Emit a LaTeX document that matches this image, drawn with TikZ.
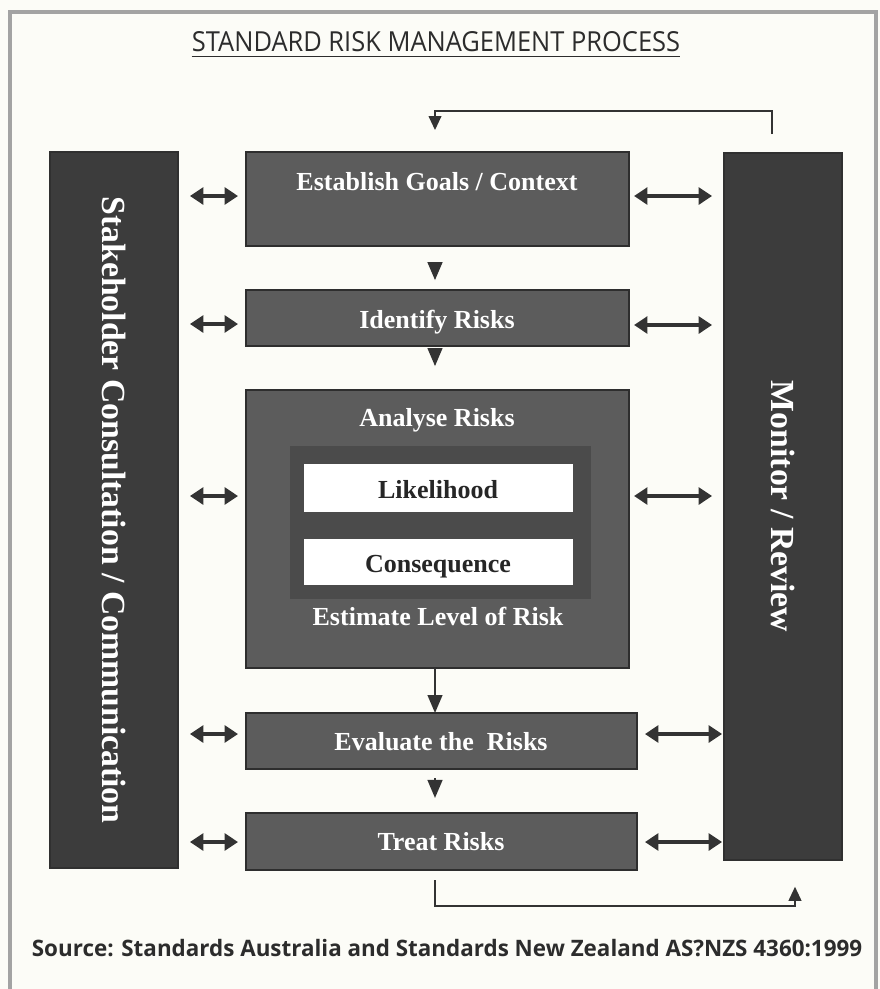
\documentclass[tikz,border=0pt]{standalone}
\usepackage{fontspec}
\setmainfont{Liberation Serif}
\newfontfamily\titlefont{Open Sans}
\usetikzlibrary{arrows.meta,fit}
\definecolor{bg}{HTML}{FCFCF7}
\definecolor{framec}{HTML}{A3A3A3}
\definecolor{boxfill}{HTML}{5C5C5C}
\definecolor{boxline}{HTML}{2E2E2E}
\definecolor{barfill}{HTML}{3C3C3C}
\definecolor{innerfill}{HTML}{4B4B4B}
\definecolor{arrowc}{HTML}{333333}
\definecolor{titlec}{HTML}{2C2C2C}
\begin{document}
\begin{tikzpicture}[x=0.025cm,y=-0.025cm,
  box/.style={draw=boxline, line width=2pt, fill=boxfill, inner sep=0pt},
  bar/.style={draw=barfill!80!black, line width=1pt, fill=barfill, inner sep=0pt},
  innerbox/.style={fill=innerfill, inner sep=0pt},
  whitebox/.style={fill=white, draw=innerfill, line width=0.5pt, inner sep=0pt},
  darklbl/.style={font=\fontsize{18.5}{20}\selectfont\bfseries, text=black!85, inner sep=0pt, anchor=base},
  lbl/.style={font=\fontsize{18.5}{20}\selectfont\bfseries, text=white, inner sep=0pt, anchor=base},
  bartext/.style={font=\fontsize{24}{26}\selectfont\bfseries, text=white, inner sep=0pt, rotate=-90},
  dbl/.style={{Triangle[length=9.5pt,width=12pt]}-{Triangle[length=9.5pt,width=12pt]}, line width=2.2pt, draw=arrowc},
  down/.style={-{Triangle[length=12.8pt,width=10.5pt]}, line width=1.4pt, draw=arrowc},
  fb/.style={-{Triangle[length=10pt,width=9pt]}, line width=1.4pt, draw=arrowc}
]
\fill[bg] (0,0) rectangle (880,989);
\useasboundingbox (0,0) rectangle (880,989);
\draw[framec, line width=2.5pt] (10,995) -- (10,12) -- (876,12) -- (876,995);

% title
\node[inner sep=0pt, text=titlec, anchor=south] (title) at (436,52)
  {\resizebox{12.2cm}{0.5cm}{\titlefont STANDARD RISK MANAGEMENT PROCESS}};
\draw[titlec, line width=1pt] ([yshift=-3pt]title.south west) -- ([yshift=-3pt]title.south east);

% side bars
\node[bar, fit={(50,152) (178,868)}] (lbar) {};
\node[bartext] (ltext) at (lbar.center) {Stakeholder Consultation / Communication};
\node[bar, fit={(724,153) (842,860)}] (rbar) {};
\node[bartext] (rtext) at (rbar.center) {Monitor / Review};

% process boxes
\node[box, fit={(246,152) (629,246)}] (est) {};
\node[lbl] (estt) at (437,190) {Establish Goals / Context};
\node[box, fit={(246,290) (629,346)}] (ident) {};
\node[lbl] (identt) at (437,328) {Identify Risks};
\node[box, fit={(246,390) (629,668)}] (ana) {};
\node[lbl] (anat) at (437,426) {Analyse Risks};
\node[innerbox, fit={(290,446) (591,599)}] (anin) {};
\node[whitebox, fit={(303,463) (573,512)}] (like) {};
\node[darklbl] (liket) at (438,498) {Likelihood};
\node[whitebox, fit={(303,538) (573,585)}] (cons) {};
\node[darklbl] (const) at (438,572) {Consequence};
\node[lbl] (estim) at (438,625) {Estimate Level of Risk};
\node[box, fit={(246,713) (637,769)}] (eval) {};
\node[lbl] (evalt) at (441,750) {Evaluate the\ \ Risks};
\node[box, fit={(246,813) (637,870)}] (treat) {};
\node[lbl] (treatt) at (441,850) {Treat Risks};

% left double arrows
\foreach \yy in {196, 324, 496, 734, 842}{
  \coordinate (la) at (178,\yy);
  \coordinate (lb) at (246,\yy);
  \draw[dbl, shorten <=8.5pt, shorten >=5.7pt] (la) -- (lb);
}
% right double arrows
\foreach \yy in {196, 325, 496}{
  \coordinate (ra) at (629,\yy);
  \coordinate (rb) at (724,\yy);
  \draw[dbl, shorten <=3.6pt, shorten >=8.5pt] (ra) -- (rb);
}
\foreach \yy in {734, 842}{
  \coordinate (ra) at (637,\yy);
  \coordinate (rb) at (724,\yy);
  \draw[dbl, shorten <=5.7pt, shorten >=1.4pt] (ra) -- (rb);
}

% down arrows
\coordinate (d1a) at (435,246); \coordinate (d1b) at (435,290);
\draw[down, shorten <=11.4pt, shorten >=7pt] (d1a) -- (d1b);
\coordinate (d2a) at (435,346); \coordinate (d2b) at (435,390);
\draw[down, shorten <=1.4pt, shorten >=17pt] (d2a) -- (d2b);
\coordinate (d3a) at (435,668); \coordinate (d3b) at (435,713);
\draw[down] (d3a) -- (d3b);
\coordinate (d4a) at (435,769); \coordinate (d4b) at (435,813);
\draw[down, shorten <=6.4pt, shorten >=10.7pt] (d4a) -- (d4b);

% feedback loops
\coordinate (fbA) at (772,134);
\coordinate (fbT) at (435,111);
\coordinate (fbE) at (435,152);
\draw[fb, shorten >=15.6pt] (fbA) |- (fbT) -- (fbE);
\coordinate (fbB) at (435,880);
\coordinate (fbC) at (795,906);
\coordinate (fbR) at (795,860);
\draw[fb, shorten >=19pt] (fbB) |- (fbC) -- (fbR);

% source
\node[inner sep=0pt, text=titlec, anchor=south] (src) at (447,957)
  {\resizebox{20.75cm}{0.43cm}{\titlefont\bfseries Source: Standards Australia and Standards New Zealand AS?NZS 4360:1999}};
\end{tikzpicture}
\end{document}
